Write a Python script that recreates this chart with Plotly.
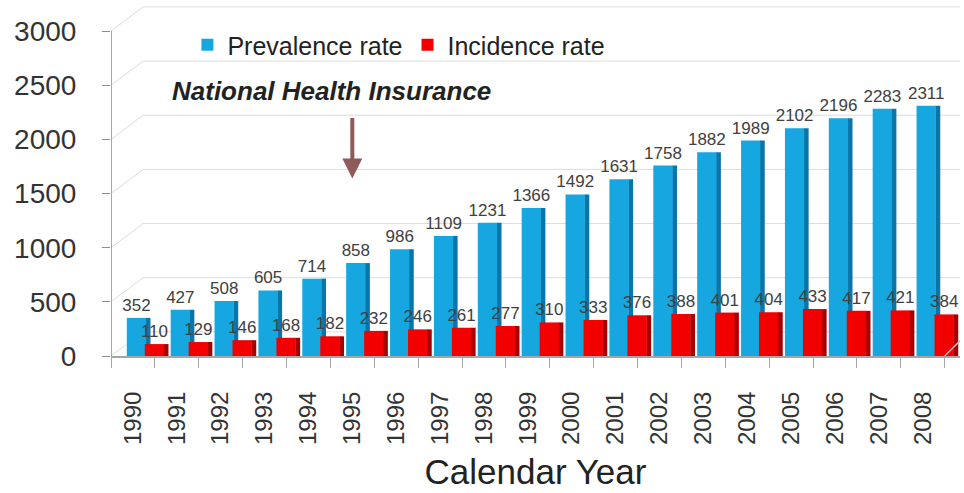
import plotly.graph_objects as go

years = list(range(1990, 2009))
prevalence = [352, 427, 508, 605, 714, 858, 986, 1109, 1231, 1366,
              1492, 1631, 1758, 1882, 1989, 2102, 2196, 2283, 2311]
incidence = [110, 129, 146, 168, 182, 232, 246, 261, 277, 310,
             333, 376, 388, 401, 404, 433, 417, 421, 384]
y_ticks = [0, 500, 1000, 1500, 2000, 2500, 3000]

BLUE, BLUE_SIDE = "#16A6E0", "#0B74A8"
RED, RED_SIDE = "#F20000", "#A80000"
LABEL = "#404040"
FONT = "Liberation Sans, Arial, sans-serif"

fig = go.Figure()

# side faces give the bars a little depth
fig.add_trace(go.Bar(x=years, y=prevalence, offset=0.29, width=0.11,
                     marker=dict(color=BLUE_SIDE, line_width=0),
                     showlegend=False, hoverinfo="skip"))
fig.add_trace(go.Bar(x=years, y=prevalence, offset=-0.14, width=0.44,
                     marker=dict(color=BLUE, line_width=0),
                     name="Prevalence rate",
                     text=[str(v) for v in prevalence], textposition="outside",
                     textfont=dict(size=17, color=LABEL, family=FONT),
                     constraintext="none", cliponaxis=False))
fig.add_trace(go.Bar(x=years, y=incidence, offset=0.70, width=0.11,
                     marker=dict(color=RED_SIDE, line_width=0),
                     showlegend=False, hoverinfo="skip"))
fig.add_trace(go.Bar(x=years, y=incidence, offset=0.27, width=0.44,
                     marker=dict(color=RED, line_width=0),
                     name="Incidence rate",
                     text=[str(v) for v in incidence], textposition="outside",
                     textfont=dict(size=17, color=LABEL, family=FONT),
                     constraintext="none", cliponaxis=False))

# back-wall gridlines drawn in perspective
depth = 223
x0, x_back, x_end = 1989.5, 1990.23, 2008.85
shapes = []
for v in y_ticks:
    shapes.append(dict(type="path", xref="x", yref="y", layer="below",
                       path=f"M {x0},{v} L {x_back},{v + depth} L {x_end},{v + depth}",
                       line=dict(color="#DCDCDC", width=1)))
# left axis line
shapes.append(dict(type="line", xref="x", yref="y", x0=x0, x1=x0, y0=0, y1=3000,
                   line=dict(color="#8C8C8C", width=1.5)))
# floor edge on the right
shapes.append(dict(type="line", xref="x", yref="y", x0=2008.5, x1=2008.85,
                   y0=0, y1=140, line=dict(color="#BDBDBD", width=1.5)))

fig.update_layout(
    width=964, height=493,
    margin=dict(l=111, r=4, t=4, b=137),
    paper_bgcolor="white", plot_bgcolor="white",
    barmode="overlay",
    font=dict(family=FONT, color="#333333"),
    shapes=shapes,
    legend=dict(orientation="h", x=0.09, y=0.8835, xanchor="left", yanchor="middle",
                font=dict(size=25, color="#222222", family=FONT),
                bgcolor="rgba(0,0,0,0)", itemwidth=30, traceorder="normal"),
    xaxis=dict(range=[1989.5, 2008.85], tickvals=years,
               ticktext=[str(y) for y in years], tickangle=-90,
               tickfont=dict(size=24, color="#333333", family=FONT),
               ticks="outside", ticklen=24, tickcolor="rgba(0,0,0,0)",
               showgrid=False, zeroline=False,
               showline=True, linecolor="#A6A6A6", linewidth=2,
               minor=dict(tickvals=[y - 0.5 for y in years] + [2008.5],
                          ticks="outside", ticklen=10, tickcolor="#A6A6A6",
                          showgrid=False),
               title=dict(text="Calendar Year",
                          font=dict(size=35, color="#222222", family=FONT),
                          standoff=16)),
    yaxis=dict(range=[0, 3250], tickvals=y_ticks,
               ticktext=[str(v) for v in y_ticks],
               tickfont=dict(size=28, color="#333333", family=FONT),
               ticks="outside", ticklen=8, tickcolor="#8C8C8C",
               ticklabelstandoff=20,
               showgrid=False, zeroline=False, showline=False),
    annotations=[
        dict(text="<b><i>National Health Insurance</i></b>", x=1995.0, y=2450,
             xref="x", yref="y", xanchor="center", yanchor="middle",
             showarrow=False, font=dict(size=26, color="#222222", family=FONT),
             xshift=-21),
        dict(text="", x=1995.0, y=1640, xref="x", yref="y",
             ax=0, ay=-62, axref="pixel", ayref="pixel",
             showarrow=True, arrowhead=2, arrowsize=1, arrowwidth=4,
             arrowcolor="#8E5A5A"),
    ],
)

fig.write_html("out.html")
